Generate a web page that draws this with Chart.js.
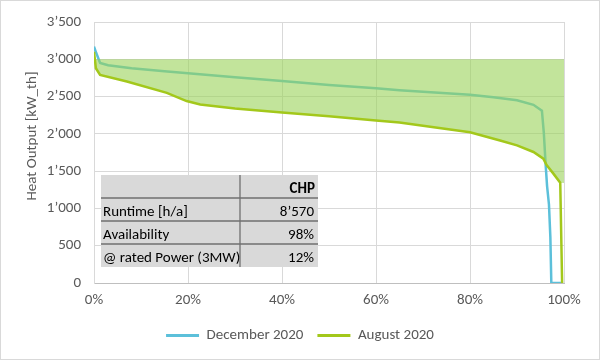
<!DOCTYPE html>
<html><head><meta charset="utf-8">
<script src="https://cdn.jsdelivr.net/npm/chart.js@4"></script>
<style>html,body{margin:0;padding:0;background:#fff}</style>
</head><body>
<canvas id="c" width="600" height="360"></canvas>
<script>
// ---- data ----
const seriesNames = ['December 2020', 'August 2020'];
const decemberX = [0, 0.5, 1.3, 3, 8, 15, 22.5, 30, 40, 50, 60, 65, 70, 80, 85, 90, 93.5, 95.3, 95.7, 96.1, 96.4, 96.8, 97.1, 97.3, 99.7];
const decemberY = [3170, 3080, 2950, 2920, 2880, 2840, 2800, 2760, 2708, 2655, 2612, 2585, 2565, 2523, 2490, 2450, 2390, 2310, 2021, 1581, 1300, 1053, 612, 0, 0];
const augustX = [0, 0.4, 1.3, 7, 15.5, 19.7, 22.6, 30, 40, 50, 60, 65, 70, 75, 80, 86.4, 90, 93.5, 95.6, 96.3, 97.7, 99.2, 99.6];
const augustY = [3100, 2880, 2790, 2703, 2550, 2440, 2395, 2340, 2285, 2235, 2180, 2153, 2110, 2065, 2021, 1911, 1845, 1757, 1668, 1581, 1470, 1345, 0];
const ratedOutput = 3000;           // upper edge of the shaded band
const bandEndX = 100, bandEndY = 1340;
const yTickValues = [0, 500, 1000, 1500, 2000, 2500, 3000, 3500];
const xTickValues = [0, 20, 40, 60, 80, 100];
const yAxisTitle = 'Heat Output [kW_th]';
const tableHeader = 'CHP';
const tableLabels = ['Runtime [h/a]', 'Availability', '@ rated Power (3MW)'];
const tableValues = ['8\u2019570', '98%', '12%'];

const FONT = 'Carlito, Calibri, Lato, sans-serif';
const FS = 15;
const pts = (xs, ys) => xs.map((x, i) => ({x, y: ys[i]}));
const bandX = [...augustX.slice(0, -1), bandEndX];
const bandY = [...augustY.slice(0, -1), bandEndY];
const fmtK = v => v >= 1000 ? Math.floor(v / 1000) + '\u2019' + String(v % 1000).padStart(3, '0') : String(v);

const framePlugin = {
  id: 'frame',
  afterLayout(chart) {
    // centre the legend on the whole canvas rather than on the padded box
    const pad = chart.options.layout.padding.right / 2;
    chart.legend.left += pad; chart.legend.right += pad;
  },
  beforeDraw(chart) {
    const c = chart.ctx;
    c.save(); c.fillStyle = '#fff'; c.fillRect(0, 0, chart.width, chart.height);
    c.strokeStyle = '#d9d9d9'; c.lineWidth = 1; c.strokeRect(0.5, 0.5, chart.width - 1, chart.height - 1);
    c.restore();
  },
  afterDraw(chart) {
    const c = chart.ctx;
    c.save();
    c.translate(32, 136); c.rotate(-Math.PI / 2);
    c.fillStyle = '#595959'; c.font = FS + 'px ' + FONT; c.textAlign = 'center'; c.textBaseline = 'middle';
    c.fillText(yAxisTitle, 0, 0);
    c.restore();
  }
};

const tablePlugin = {
  id: 'table',
  afterDatasetsDraw(chart) {
    const c = chart.ctx; const a = chart.chartArea;
    const left = a.left + 7, right = a.left + 224, top = a.bottom - 108, rowH = 23, divX = a.left + 146;
    const nRows = tableLabels.length + 1;
    c.save();
    c.fillStyle = '#d9d9d9'; c.fillRect(left, top, right - left, rowH * nRows);
    c.strokeStyle = '#707070'; c.lineWidth = 1.3;
    c.beginPath();
    for (let i = 1; i < nRows; i++) { c.moveTo(left, top + i * rowH); c.lineTo(right, top + i * rowH); }
    c.moveTo(divX, top); c.lineTo(divX, top + rowH * nRows);
    c.stroke();
    c.fillStyle = '#000'; c.textBaseline = 'middle';
    c.font = 'bold ' + FS + 'px ' + FONT; c.textAlign = 'right';
    c.fillText(tableHeader, right - 3, top + rowH / 2 + 3);
    c.font = FS + 'px ' + FONT;
    tableLabels.forEach((t, i) => {
      const y = top + (i + 1) * rowH + rowH / 2 + 3;
      c.textAlign = 'left'; c.fillText(t, left + 2, y);
      c.textAlign = 'right'; c.fillText(tableValues[i], right - 4, y);
    });
    c.restore();
  }
};

new Chart(document.getElementById('c'), {
  type: 'line',
  data: {
    datasets: [
      { label: seriesNames[0], data: pts(decemberX, decemberY), borderColor: '#5cc0da', backgroundColor: '#5cc0da',
        borderWidth: 2.5, pointRadius: 0, tension: 0, fill: false, order: 2 },
      { label: seriesNames[1], data: pts(augustX, augustY), borderColor: '#a3c81b', backgroundColor: '#a3c81b',
        borderWidth: 2.5, pointRadius: 0, tension: 0, fill: false, order: 0 },
      { label: 'band', data: pts(bandX, bandY), borderWidth: 0, borderColor: 'rgba(0,0,0,0)', pointRadius: 0, tension: 0,
        fill: { value: ratedOutput }, backgroundColor: 'rgba(153,210,88,0.6)', order: 1 }
    ]
  },
  options: {
    responsive: false, animation: false, devicePixelRatio: 1,
    layout: { padding: { left: 0, right: 36, top: 18, bottom: 7 } },
    scales: {
      x: { type: 'linear', min: 0, max: 100,
        afterBuildTicks: s => { s.ticks = xTickValues.map(v => ({value: v})); },
        afterFit: s => { s.height = 31; },
        grid: { color: '#d9d9d9', drawTicks: false },
        border: { color: '#bfbfbf', width: 1 },
        ticks: { padding: 8, color: '#595959', font: { size: FS, family: FONT }, maxRotation: 0, callback: v => v + '%' } },
      y: { min: 0, max: 3500,
        afterBuildTicks: s => { s.ticks = yTickValues.map(v => ({value: v})); },
        afterFit: s => { s.width = 94; },
        grid: { color: '#d9d9d9', drawTicks: false },
        border: { color: '#d9d9d9', width: 1 },
        ticks: { padding: 13, color: '#595959', font: { size: FS, family: FONT }, callback: v => fmtK(v) } }
    },
    plugins: {
      tooltip: { enabled: false },
      legend: { position: 'bottom',
        labels: { boxWidth: 33, boxHeight: 3, padding: 14, color: '#595959', font: { size: FS, family: FONT },
          sort: (a, b) => a.datasetIndex - b.datasetIndex,
          filter: it => it.datasetIndex !== 2,
          generateLabels: ch => Chart.defaults.plugins.legend.labels.generateLabels(ch).map(l => ({...l, lineWidth: 0})) } }
    }
  },
  plugins: [framePlugin, tablePlugin]
});
</script>
</body></html>
